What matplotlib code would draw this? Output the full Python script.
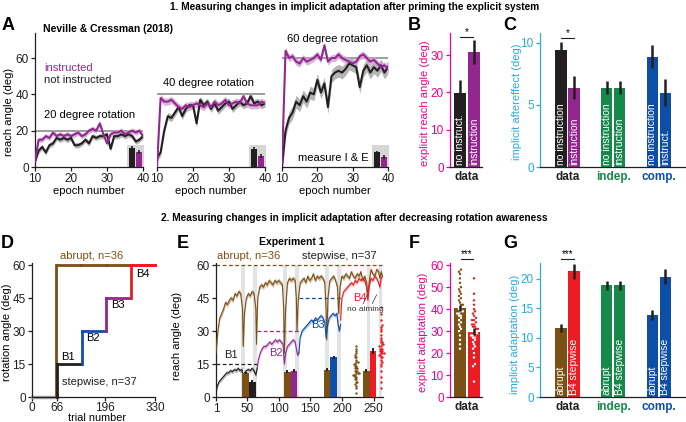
import matplotlib
matplotlib.use("Agg")
import matplotlib.pyplot as plt
import numpy as np
from matplotlib.patches import Rectangle

plt.rcParams['font.family'] = ['Liberation Sans', 'DejaVu Sans']
plt.rcParams['font.size'] = 8

# ---------------- data: panel A (Neville & Cressman 2018) ----------------
A_epochs = list(range(10, 41))
A_rotations = [20, 40, 60]
A_instr = [
    [3, 15, 15, 17, 16, 19, 17, 18, 17, 18, 17, 18, 19, 17, 18, 20, 21, 20, 24, 18,
     13, 18, 19, 19, 20, 18, 19, 20, 19, 20, 17],
    [0, 38, 36, 36, 37, 35, 33, 32, 34, 33, 34, 35, 34, 33, 35, 33, 36, 34, 35, 37,
     34, 35, 36, 35, 39, 35, 34, 34, 34, 36, 35],
    [2, 64, 60, 61, 58, 57, 60, 58, 59, 60, 62, 59, 67, 58, 60, 60, 62, 60, 59, 58,
     57, 58, 61, 62, 60, 58, 59, 57, 55, 56, 54],
]
A_noinstr = [
    [3, 9, 11, 8, 12, 13, 16, 15, 16, 15, 16, 12, 12, 13, 15, 13, 17, 16, 17, 17,
     18, 10, 17, 17, 18, 17, 18, 17, 14, 15, 17],
    [5, 8, 20, 28, 27, 30, 33, 28, 32, 34, 34, 24, 37, 34, 36, 32, 35, 31, 33, 35,
     36, 32, 34, 36, 34, 35, 39, 35, 36, 34, 35],
    [0, 20, 27, 30, 36, 34, 39, 36, 41, 40, 48, 41, 46, 33, 50, 52, 53, 52, 54, 57,
     56, 55, 44, 53, 56, 52, 55, 53, 56, 52, 55],
]
A_sem_instr = [1.5, 2.0, 2.0]
A_sem_noinstr = [1.5, 2.0, 3.5]
A_inset_noinstr = [10.5, 10.0, 8.0]
A_inset_instr = [8.3, 6.0, 5.5]
A_titles = ["20 degree rotation", "40 degree rotation", "60 degree rotation"]

# ---------------- data: panels B, C ----------------
B_labels = ["no instruct.", "instruction"]
B_vals = [19.8, 30.8]
B_err = [3.5, 3.2]

C_groups = ["data", "indep.", "comp."]
C_labels = ["no instruction", "instruction", "no instruction", "instruction",
            "no instruction", "instruct."]
C_vals = [9.4, 6.4, 6.4, 6.4, 8.9, 6.0]
C_err = [0.7, 0.9, 0.5, 0.5, 0.9, 1.1]

# ---------------- data: panel D (rotation schedule) ----------------
D_block_edges = [0, 66, 132, 198, 264, 330]
D_stepwise = [0, 15, 30, 45, 60]
D_abrupt = [0, 60, 60, 60, 60]

# ---------------- data: panel E (Experiment 1 traces) ----------------
E_abrupt_trials = [1, 4, 7, 10, 13, 16, 19, 22, 25, 28, 31, 34, 37, 40, 43, 44, 46, 49, 52, 55,
                   58, 61, 64, 65, 67, 70, 73, 76, 79, 82, 85, 88, 91, 94, 97, 100, 103, 106, 108, 109,
                   111, 114, 117, 120, 123, 126, 128, 129, 131, 134, 137, 140, 143, 146, 149, 152, 155, 158, 161, 164,
                   167, 170, 173, 175, 176, 178, 181, 184, 187, 190, 193, 195, 197, 200, 203, 206, 209, 212, 215, 218,
                   221, 224, 227, 230, 233, 236, 239, 241, 243, 246, 249, 252, 255, 258, 260, 262, 264]
E_abrupt = [20, 30, 36, 38, 40, 43, 42, 44, 45, 44, 47, 46, 48, 47, 40, 23, 38, 45, 47, 46,
            48, 47, 40, 24, 45, 50, 51, 50, 52, 51, 53, 52, 51, 53, 52, 53, 52, 51, 40, 20,
            40, 52, 54, 53, 54, 53, 45, 30, 44, 52, 53, 54, 52, 55, 53, 54, 56, 53, 55, 54,
            55, 54, 52, 40, 26, 45, 53, 54, 55, 53, 50, 38, 50, 55, 54, 56, 55, 54, 57, 55,
            54, 56, 55, 57, 53, 55, 52, 46, 52, 58, 56, 55, 58, 57, 54, 57, 55]

E_B1_trials = [1, 3, 6, 9, 12, 15, 18, 21, 24, 27, 30, 33, 36, 39, 42, 44, 46, 49, 52, 55, 58, 61, 64, 66]
E_B1 = [2, 5, 7, 8, 9, 10, 11, 11, 12, 11.5, 12.5, 12, 13, 12, 12.5, 9, 11, 12, 12.5, 12, 13, 12, 10, 13]
E_B2_trials = [66, 68, 71, 74, 77, 80, 83, 86, 89, 92, 95, 98, 101, 104, 107, 109, 111, 114, 117, 120,
               123, 126, 128, 130, 132]
E_B2 = [13, 17, 20, 22, 23, 23, 24, 25, 24, 25, 26, 25, 26, 25, 24, 15, 20, 23, 24, 25, 26, 25, 22, 19, 20]
E_B3_trials = [132, 134, 137, 140, 143, 146, 149, 152, 155, 158, 161, 164, 167, 170, 173, 175, 177, 180,
               183, 186, 189, 192, 194, 196, 198]
E_B3 = [20, 27, 30, 31, 32, 33, 34, 35, 34, 36, 35, 36, 37, 36, 34, 27, 32, 36, 37, 38, 37, 38, 33, 30, 33]
E_B4_trials = [198, 200, 203, 206, 209, 212, 215, 218, 221, 224, 227, 230, 233, 236, 239, 241, 243, 246,
               249, 252, 255, 258, 260, 262, 264]
E_B4 = [35, 45, 48, 49, 50, 51, 52, 51, 53, 52, 54, 53, 54, 53, 50, 44, 50, 54, 53, 55, 54, 52, 50, 54, 55]

E_probe_windows = [(41, 47), (60, 66), (107, 113), (126, 132), (173, 179), (192, 198), (239, 245), (258, 264)]
E_bar_abrupt = [11.0, 11.5, 12.5, 12.0]
E_bar_step = [7.0, 12.0, 18.0, 21.0]
E_bar_err = [0.6, 0.6, 0.8, 1.2]

E_dots_abrupt = [2, 4, 5, 6, 7, 7, 8, 8, 9, 9, 10, 10, 10, 11, 11, 11, 12, 12, 12, 13,
                 13, 13, 14, 14, 15, 15, 16, 16, 17, 18, 18, 19, 20, 21, 22, 23]
E_dots_step = [4, 7, 9, 12, 14, 15, 16, 17, 18, 18, 19, 19, 20, 20, 20, 21, 21, 21, 22, 22,
               22, 23, 23, 24, 24, 25, 25, 26, 27, 28, 30, 31, 32, 33, 35, 38, 41]

# ---------------- data: panel F ----------------
F_vals = [40.5, 29.8]
F_err = [1.5, 1.5]
F_dots_abrupt = [22, 24, 26, 28, 30, 31, 32, 33, 34, 35, 36, 37, 37, 38, 38, 39, 39, 40, 40, 41,
                 41, 42, 42, 43, 44, 45, 46, 47, 48, 49, 50, 52, 54, 56, 57, 58]
F_dots_step = [7, 14, 15, 18, 20, 22, 23, 24, 25, 26, 27, 27, 28, 28, 29, 29, 30, 30, 30, 31,
               31, 32, 32, 33, 33, 34, 35, 35, 36, 37, 38, 39, 40, 42, 44, 47, 54]

# ---------------- data: panel G ----------------
G_labels = ["abrupt", "B4 stepwise"] * 3
G_vals = [11.7, 21.3, 18.9, 18.9, 13.9, 20.4]
G_err = [0.7, 1.3, 0.7, 0.7, 0.8, 1.2]

# ---------------- colours ----------------
BLACK = '#231f20'
PURPLE = '#93278f'
GREEN = '#16894a'
BLUE = '#0d4ea6'
BROWN = '#7b5014'
RED = '#ed1c24'
MAGENTA = '#ec008c'
SKY = '#29abe2'
GRAYLINE = '#8c8c8c'
BAND = '#e2e3e4'

W, H = 686, 422
fig = plt.figure(figsize=(W / 100, H / 100), dpi=100)


def axes_px(l, t, r, b):
    return fig.add_axes([l / W, 1 - b / H, (r - l) / W, (b - t) / H])


def text_px(x, y, s, **kw):
    kw.setdefault('va', 'center')
    fig.text(x / W, 1 - y / H, s, **kw)


def style(ax, left_color=BLACK):
    for s in ['top', 'right']:
        ax.spines[s].set_visible(False)
    ax.spines['left'].set_color(left_color)
    ax.spines['bottom'].set_color(BLACK)
    for s in ['left', 'bottom']:
        ax.spines[s].set_linewidth(0.9)
    ax.tick_params(axis='y', colors=left_color, length=3, width=0.9, labelsize=8.5, pad=1.5)
    ax.tick_params(axis='x', colors=BLACK, length=3, width=0.9, labelsize=8.5, pad=1.5)


def swarm(vals, bin_h, step):
    vals = np.asarray(vals, dtype=float)
    offs = np.zeros(len(vals))
    bins = np.round(vals / bin_h)
    for b in np.unique(bins):
        idx = np.where(bins == b)[0]
        offs[idx] = (np.arange(len(idx)) - (len(idx) - 1) / 2) * step
    return offs


def bar_panel(ax, xs, vals, errs, colors, labels, err_color=BLACK):
    ax.bar(xs, vals, width=0.88, color=colors, zorder=2)
    ax.errorbar(xs, vals, yerr=errs, fmt='none', ecolor=err_color, elinewidth=1.8, capsize=0, zorder=3)
    for x, lab in zip(xs, labels):
        ax.text(x, ax.get_ylim()[1] * 0.012, lab, rotation=90, color='white', ha='center',
                va='bottom', fontsize=7.5, zorder=4)
    ax.set_xticks([])


def group_label(ax, x, s, color):
    ax.annotate(s, xy=(x, 0), xycoords=('data', 'axes fraction'), xytext=(0, -3),
                textcoords='offset points', ha='center', va='top', fontsize=8.5,
                fontweight='bold', color=color)


def sig(ax, x0, x1, y, s):
    ax.plot([x0, x1], [y, y], color=BLACK, lw=0.8, clip_on=False)
    ax.text((x0 + x1) / 2, y, s, ha='center', va='bottom', fontsize=7, clip_on=False)


# ================= titles and panel letters =================
text_px(355, 7, "1. Measuring changes in implicit adaptation after priming the explicit system",
        ha='center', fontsize=7.3, fontweight='bold')
text_px(354, 218, "2. Measuring changes in implicit adaptation after decreasing rotation awareness",
        ha='center', fontsize=7.3, fontweight='bold')
for letter, (x, y) in zip("ABCDEFG", [(8, 25), (414, 25), (510, 25), (7, 243), (183, 243),
                                     (414, 243), (510, 243)]):
    text_px(x, y, letter, ha='center', fontsize=13, fontweight='bold')

# ================= panel A =================
A_px = [(35, 143), (157, 265), (282, 388)]
for i, (l, r) in enumerate(A_px):
    ax = axes_px(l, 33, r, 167)
    style(ax)
    ax.set_xlim(10, 40)
    ax.set_ylim(0, 73.8)
    ax.axhline(A_rotations[i], color=GRAYLINE, lw=1.2, zorder=1)
    ax.add_patch(Rectangle((35.6, 0), 4.8, 12, color='#d6d6d6', lw=0, zorder=1, clip_on=False))
    ni = np.array(A_noinstr[i], dtype=float)
    ins = np.array(A_instr[i], dtype=float)
    ax.fill_between(A_epochs, ni - A_sem_noinstr[i], ni + A_sem_noinstr[i], color='#b5b5b5', lw=0, zorder=2)
    ax.fill_between(A_epochs, ins - A_sem_instr[i], ins + A_sem_instr[i], color='#cfa6d0', lw=0,
                    alpha=0.8, zorder=2)
    ax.plot(A_epochs, ni, color=BLACK, lw=1.5, zorder=3)
    ax.plot(A_epochs, ins, color=PURPLE, lw=1.5, zorder=3)
    ax.bar([37, 39], [A_inset_noinstr[i], A_inset_instr[i]], width=1.7, color=[BLACK, PURPLE], zorder=4)
    ax.errorbar([37, 39], [A_inset_noinstr[i], A_inset_instr[i]], yerr=[0.9, 1.2], fmt='none',
                ecolor=BLACK, elinewidth=1.2, zorder=5)
    ax.set_xticks([10, 20, 30, 40])
    if i == 0:
        ax.set_yticks([0, 20, 40, 60])
    else:
        ax.spines['left'].set_visible(False)
        ax.set_yticks([])
    text_px((l + r) / 2, 191, "epoch number", ha='center', fontsize=8)

text_px(9, 112, "reach angle (deg)", rotation=90, ha='center', fontsize=8)
text_px(43, 29, "Neville & Cressman (2018)", ha='left', fontsize=7.5, fontweight='bold')
text_px(44, 68, "instructed", ha='left', color=PURPLE, fontsize=8)
text_px(44, 80, "not instructed", ha='left', color=BLACK, fontsize=8)
text_px(44, 115, A_titles[0], ha='left', fontsize=8)
text_px(163, 83, A_titles[1], ha='left', fontsize=8)
text_px(287, 39, A_titles[2], ha='left', fontsize=8)
text_px(298, 158, "measure I & E", ha='left', fontsize=8)

# ================= panel B =================
ax = axes_px(450, 33, 482, 167)
style(ax, MAGENTA)
ax.set_xlim(-0.71, 1.57)
ax.set_ylim(0, 35.9)
ax.set_yticks([0, 10, 20, 30])
bar_panel(ax, [0, 1], B_vals, B_err, [BLACK, PURPLE], B_labels)
sig(ax, 0, 0.9, 34.8, "*")
group_label(ax, 0.5, "data", BLACK)
text_px(425, 103, "explicit reach angle (deg)", rotation=90, ha='center', color=MAGENTA, fontsize=8)

# ================= panel C =================
bar_x = [0, 1, 3.5, 4.5, 7, 8]
group_x = [0.5, 4.0, 7.5]
group_cols = [BLACK, GREEN, BLUE]
ax = axes_px(540, 33, 685, 167)
style(ax, SKY)
ax.set_xlim(-1.6, 9.5)
ax.set_ylim(0, 10.8)
ax.set_yticks([0, 5, 10])
bar_panel(ax, bar_x, C_vals, C_err, [BLACK, PURPLE, GREEN, GREEN, BLUE, BLUE], C_labels)
sig(ax, 0, 1, 10.4, "*")
for gx, g, c in zip(group_x, C_groups, group_cols):
    group_label(ax, gx, g, c)
text_px(517, 102, "implicit aftereffect (deg)", rotation=90, ha='center', color=SKY, fontsize=8)

# ================= panel D =================
ax = axes_px(32, 263, 155, 397)
style(ax)
ax.set_xlim(0, 330)
ax.set_ylim(0, 61)
ax.set_yticks([0, 15, 30, 45, 60])
ax.set_xticks([0, 66, 196, 330])
ax.tick_params(axis='x', pad=0.5)
ax.plot(D_block_edges[:2], [0, 0], color='#a6a6a6', lw=2.5, clip_on=False, zorder=2)
abrupt_cols = [None, BROWN, BROWN, BROWN, RED]
step_cols = [None, BLACK, BLUE, PURPLE, RED]
for k in range(1, 5):
    x0, x1 = D_block_edges[k], D_block_edges[k + 1]
    if D_abrupt[k] != D_abrupt[k - 1]:
        ax.plot([x0 - 1.5, x0 - 1.5], [D_abrupt[k - 1], D_abrupt[k]], color=abrupt_cols[k], lw=2, zorder=3)
    ax.plot([x0, x1], [D_abrupt[k], D_abrupt[k]], color=abrupt_cols[k], lw=2, clip_on=False, zorder=3)
for k in range(1, 5):
    x0, x1 = D_block_edges[k], D_block_edges[k + 1]
    ax.plot([x0 + 1.5, x0 + 1.5], [D_stepwise[k - 1], D_stepwise[k]], color=step_cols[k], lw=2,
            clip_on=False, zorder=4)
    ax.plot([x0 + 1.5, x1], [D_stepwise[k], D_stepwise[k]], color=step_cols[k], lw=2,
            clip_on=False, zorder=4)
ax.text(161, 64, "abrupt, n=36", color=BROWN, ha='center', va='center', fontsize=8, clip_on=False)
ax.text(180, 7, "stepwise, n=37", color=BLACK, ha='center', va='center', fontsize=8)
for lab, (x, y) in zip(["B1", "B2", "B3", "B4"], [(97, 18), (164, 27), (231, 42), (297, 56)]):
    ax.text(x, y, lab, ha='center', va='center', fontsize=8)
text_px(97, 418, "trial number", ha='center', va='center', fontsize=7.8)
text_px(7, 332, "rotation angle (deg)", rotation=90, ha='center', fontsize=8)

# ================= panel E =================
ax = axes_px(216, 263, 383, 397)
style(ax)
ax.set_xlim(1, 265)
ax.set_ylim(0, 61)
ax.set_yticks([0, 15, 30, 45, 60])
ax.set_xticks([1, 50, 100, 150, 200, 250])
for s, e in E_probe_windows:
    ax.axvspan(s, e, ymax=60 / 61, color=BAND, lw=0, zorder=0)
dash = (0, (3, 2))
ax.plot([1, 198], [60, 60], color=BROWN, lw=0.9, ls=dash, zorder=1)
step_targets = [(1, 66, 15, BLACK), (66, 132, 30, PURPLE), (132, 198, 45, BLUE), (198, 264, 60, RED)]
for x0, x1, y, c in step_targets:
    ax.plot([x0, x1], [y, y], color=c, lw=0.9, ls=dash, zorder=1)

ab = np.array(E_abrupt, dtype=float)
ax.fill_between(E_abrupt_trials, ab - 1.2, ab + 1.2, color=BROWN, alpha=0.35, lw=0, zorder=2)
ax.plot(E_abrupt_trials, ab, color=BROWN, lw=0.8, zorder=3)
for tr, v, c in [(E_B1_trials, E_B1, BLACK), (E_B2_trials, E_B2, PURPLE),
                 (E_B3_trials, E_B3, BLUE), (E_B4_trials, E_B4, RED)]:
    v = np.array(v, dtype=float)
    ax.fill_between(tr, v - 1.0, v + 1.0, color=c, alpha=0.3, lw=0, zorder=2)
    ax.plot(tr, v, color=c, lw=0.8, zorder=3)

bar_centers = [53, 119, 182, 244]
bw = 10.5
step_bar_cols = [BLACK, PURPLE, BLUE, RED]
for k, cx in enumerate(bar_centers):
    ax.bar([cx - bw / 2, cx + bw / 2], [E_bar_abrupt[k], E_bar_step[k]], width=bw,
           color=[BROWN, step_bar_cols[k]], zorder=4)
    ax.errorbar([cx - bw / 2, cx + bw / 2], [E_bar_abrupt[k], E_bar_step[k]],
                yerr=[0.6, E_bar_err[k]], fmt='none', ecolor=BLACK, elinewidth=1.4, zorder=5)
ax.scatter(222 + swarm(E_dots_abrupt, 1.3, 1.9), E_dots_abrupt, s=3, color=BROWN, lw=0, zorder=5)
ax.scatter(262 + swarm(E_dots_step, 1.3, 1.9), E_dots_step, s=3, color=RED, lw=0, zorder=5,
           clip_on=False)
for lab, (x, y), c in zip(["B1", "B2", "B3", "B4"], [(25, 19), (95, 20), (162, 33), (229, 45)],
                          [BLACK, PURPLE, BLUE, RED]):
    ax.text(x, y, lab, color=c, ha='center', va='center', fontsize=8, zorder=6)
ax.text(237, 40, "no aiming", ha='center', va='center', fontsize=6, color='#333333', zorder=6)
ax.plot([234, 240], [42.5, 46.5], color='#333333', lw=0.5, zorder=6)
ax.plot([248, 255], [42.5, 46.5], color='#333333', lw=0.5, zorder=6)
ax.text(52, 64, "abrupt, n=36", color=BROWN, ha='center', va='center', fontsize=8, clip_on=False)
ax.text(196, 64, "stepwise, n=37", color=BLACK, ha='center', va='center', fontsize=8, clip_on=False)
text_px(292, 242, "Experiment 1", ha='center', fontsize=7.5, fontweight='bold')
text_px(177, 336, "reach angle (deg)", rotation=90, ha='center', fontsize=8)

# ================= panel F =================
ax = axes_px(450, 263, 482, 397)
style(ax, MAGENTA)
ax.set_xlim(-0.71, 1.57)
ax.set_ylim(0, 61)
ax.set_yticks([0, 10, 20, 30, 40, 50, 60])
ax.bar([0, 1], F_vals, width=0.88, color=[BROWN, RED], zorder=2)
for x, dots, bar_v, c in [(0, F_dots_abrupt, F_vals[0], BROWN), (1, F_dots_step, F_vals[1], RED)]:
    dots = np.array(dots, dtype=float)
    cols = [c if d > bar_v + 0.8 else 'white' for d in dots]
    ax.scatter(x + swarm(dots, 1.6, 0.14), dots, s=3, c=cols, lw=0, zorder=3)
ax.errorbar([0, 1], F_vals, yerr=F_err, fmt='none', ecolor=BLACK, elinewidth=1.8, zorder=4)
ax.set_xticks([])
sig(ax, 0.1, 0.9, 63, "***")
group_label(ax, 0.5, "data", BLACK)
text_px(423, 332, "explicit adaptation (deg)", rotation=90, ha='center', color=MAGENTA, fontsize=8)

# ================= panel G =================
ax = axes_px(540, 263, 685, 397)
style(ax, SKY)
ax.set_xlim(-1.6, 9.5)
ax.set_ylim(0, 22.7)
ax.set_yticks([0, 5, 10, 15, 20])
bar_panel(ax, bar_x, G_vals, G_err, [BROWN, RED, GREEN, GREEN, BLUE, BLUE], G_labels)
sig(ax, 0, 1, 23.3, "***")
for gx, g, c in zip(group_x, C_groups, group_cols):
    group_label(ax, gx, g, c)
text_px(515, 334, "implicit adaptation (deg)", rotation=90, ha='center', color=SKY, fontsize=8)

fig.savefig("out.png", dpi=100)
